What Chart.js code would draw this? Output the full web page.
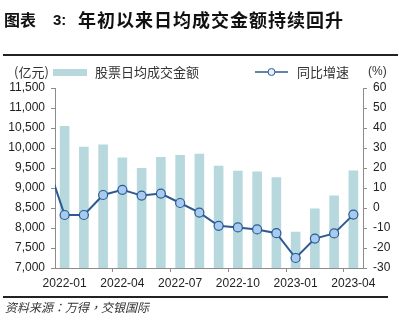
<!DOCTYPE html>
<html>
<head>
<meta charset="utf-8">
<script src="https://cdn.jsdelivr.net/npm/chart.js@4.4.1/dist/chart.umd.min.js"></script>
<style>
    html, body { margin: 0; padding: 0; background: #fff; }
    #wrap { position: relative; width: 404px; height: 328px; overflow: hidden; }
    #chart { position: absolute; left: 0; top: 0; }
    .title { position: absolute; top: 10px; white-space: nowrap; font-weight: bold; color: #111; line-height: 1; }
    .rule { position: absolute; height: 2px; background: #222; }
    .source { position: absolute; left: 5px; top: 298px; font-family: "Noto Sans CJK TC", sans-serif; font-size: 12px; font-style: italic; color: #333; white-space: nowrap; }
</style>
</head>
<body>
<div id="wrap">
    <canvas id="chart" width="404" height="328"></canvas>
    <div class="title" style="left:4px;font-family:'Noto Sans CJK SC';font-size:16px;top:11px;">图表</div>
    <div class="title" style="left:53px;font-family:'Liberation Sans';font-size:15px;top:12px;">3:</div>
    <div class="title" style="left:78px;font-family:'Noto Sans CJK SC';font-size:18px;letter-spacing:1px;top:10px;">年初以来日均成交金额持续回升</div>
    <div class="rule" style="left:3px;top:54px;width:395px;"></div>
    <div class="rule" style="left:3px;top:296px;width:385px;"></div>
    <div class="source" lang="zh-TW">资料来源：万得，交银国际</div>
</div>
<script>
// monthly data, 2021-12 is only there so the line enters from the left edge
const months = ['2021-12', '2022-01', '2022-02', '2022-03', '2022-04', '2022-05', '2022-06', '2022-07', '2022-08',
    '2022-09', '2022-10', '2022-11', '2022-12', '2023-01', '2023-02', '2023-03', '2023-04'];
const turnover = [null, 10550, 10030, 10085, 9765, 9500, 9775, 9825, 9855, 9555, 9430, 9415, 9270, 7905, 8490, 8810, 9440];
const yoyGrowth = [25, -3.5, -3.5, 6.5, 9.1, 6.2, 7.2, 2.5, -2.3, -8.9, -9.7, -10.7, -12.6, -25, -15.3, -12.7, -3.3];
const leftTicks = { min: 7000, max: 11500, step: 500 };
const rightTicks = { min: -30, max: 60, step: 10 };

const BAR_COLOR = '#B7D9DE';
const LINE_COLOR = '#2C5B94';
const POINT_FILL = '#A7CAEE';
const AXIS_COLOR = '#8C8C8C';
const TICK_FONT = { family: "'Liberation Sans', Arial, sans-serif", size: 12 };

// header row: units + hand drawn legend
const headerPlugin = {
    id: 'header',
    afterDraw(chart) {
        const ctx = chart.ctx;
        const y = 72;
        ctx.save();
        ctx.textBaseline = 'middle';
        ctx.fillStyle = '#333';
        ctx.font = '13px "Noto Sans CJK SC"';
        ctx.fillText('(亿元)', 14, y);
        ctx.fillText('股票日均成交金额', 95, y);
        ctx.fillText('同比增速', 297, y);
        ctx.font = '12px "Liberation Sans"';
        ctx.fillText('(%)', 368, y);

        ctx.fillStyle = BAR_COLOR;
        ctx.fillRect(53, 69, 34, 7);

        ctx.strokeStyle = LINE_COLOR;
        ctx.lineWidth = 1.5;
        ctx.beginPath();
        ctx.moveTo(255, y);
        ctx.lineTo(288, y);
        ctx.stroke();
        ctx.beginPath();
        ctx.arc(271.5, y, 3.5, 0, Math.PI * 2);
        ctx.fillStyle = '#E3EEF9';
        ctx.fill();
        ctx.lineWidth = 1;
        ctx.stroke();
        ctx.restore();
    }
};

new Chart(document.getElementById('chart'), {
    type: 'bar',
    data: {
        labels: months,
        datasets: [{
            type: 'line',
            label: '同比增速',
            data: yoyGrowth,
            yAxisID: 'y1',
            borderColor: LINE_COLOR,
            borderWidth: 2,
            pointBackgroundColor: POINT_FILL,
            pointBorderColor: LINE_COLOR,
            pointBorderWidth: 1.2,
            pointRadius: (c) => c.dataIndex === 0 ? 0 : 4.5,
            tension: 0,
            clip: 0,
            order: 0
        }, {
            label: '股票日均成交金额',
            data: turnover,
            yAxisID: 'y',
            backgroundColor: BAR_COLOR,
            barPercentage: 0.5,
            categoryPercentage: 1,
            order: 1
        }]
    },
    options: {
        responsive: false,
        animation: false,
        events: [],
        layout: { padding: { top: 88, left: 0, right: 0, bottom: 0 } },
        plugins: { legend: { display: false }, tooltip: { enabled: false } },
        scales: {
            x: {
                type: 'category',
                min: '2022-01',
                offset: true,
                afterFit: (s) => { s.height = 60; },
                border: { color: AXIS_COLOR, width: 1 },
                grid: {
                    offset: true,
                    drawOnChartArea: false,
                    tickLength: 4,
                    tickColor: (c) => (c.index > 0 && c.index % 3 === 0) ? AXIS_COLOR : 'rgba(0,0,0,0)'
                },
                ticks: {
                    autoSkip: false,
                    maxRotation: 0,
                    padding: 4,
                    color: '#222',
                    font: TICK_FONT,
                    callback: function (value, index) {
                        return index % 3 === 0 ? this.getLabelForValue(value) : '';
                    }
                }
            },
            y: {
                position: 'left',
                min: leftTicks.min,
                max: leftTicks.max,
                afterFit: (s) => { s.width = 55; },
                border: { color: AXIS_COLOR, width: 1 },
                grid: { drawOnChartArea: false, tickLength: 4, tickColor: AXIS_COLOR },
                ticks: {
                    stepSize: leftTicks.step,
                    padding: 6,
                    color: '#222',
                    font: TICK_FONT,
                    callback: (v) => Number(v).toLocaleString('en-US')
                }
            },
            y1: {
                position: 'right',
                min: rightTicks.min,
                max: rightTicks.max,
                afterFit: (s) => { s.width = 41; },
                border: { color: AXIS_COLOR, width: 1 },
                grid: { drawOnChartArea: false, tickLength: 4, tickColor: AXIS_COLOR },
                ticks: {
                    stepSize: rightTicks.step,
                    padding: 6,
                    color: '#222',
                    font: TICK_FONT
                }
            }
        }
    },
    plugins: [headerPlugin]
});
</script>
</body>
</html>
